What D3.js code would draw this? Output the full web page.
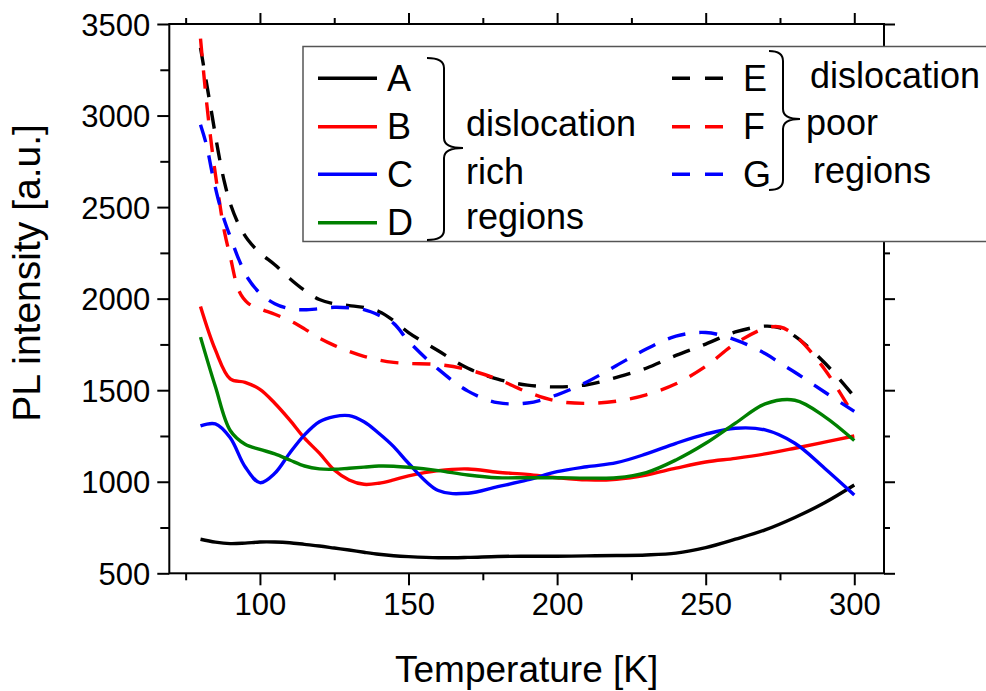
<!DOCTYPE html>
<meta charset="utf-8">
<title>PL intensity vs temperature</title>
<script src="https://cdn.jsdelivr.net/npm/d3@7"></script>
<style>
  html,body{margin:0;background:#fff}
  svg{display:block;font-family:"Liberation Sans",Arial,sans-serif}
  .line{fill:none;stroke-width:3.4}
  .dash{stroke-dasharray:18,14}
</style>
<body>
<svg width="986" height="691"></svg>
<script>
// ---- data ----
const tSolid = [80,85,90,95,100,105,110,115,120,125,130,135,140,145,150,160,170,180,190,200,210,220,230,240,250,260,270,280,290,300];
const serA = [686,670,662,665,671,671,667,658,649,638,627,615,604,596,591,585,587,592,593,593,595,597,600,610,640,686,737,805,885,982];
const serB = [1957,1720,1562,1543,1505,1429,1338,1238,1156,1064,1010,986,992,1010,1032,1061,1070,1052,1040,1022,1010,1014,1037,1074,1108,1128,1152,1183,1216,1250];
const serC = [1305,1316,1240,1082,995,1046,1156,1256,1328,1356,1361,1328,1265,1192,1101,952,937,973,1010,1055,1082,1104,1152,1210,1260,1292,1283,1210,1074,928];
const serD = [1790,1520,1280,1205,1177,1152,1119,1086,1070,1068,1074,1080,1086,1085,1079,1061,1037,1022,1022,1022,1020,1022,1050,1119,1210,1320,1425,1445,1356,1225];

const tDash = [80,82,84,86,88,90,93,96,100,105,110,115,120,125,130,135,140,145,150,160,170,180,190,200,210,220,230,240,250,260,270,275,280,290,300];
const serE = [3370,3180,2990,2800,2640,2520,2400,2320,2250,2185,2110,2045,1995,1972,1962,1952,1930,1880,1815,1715,1620,1560,1528,1518,1530,1570,1620,1690,1752,1818,1850,1840,1795,1650,1465];
const serF = [3420,3080,2800,2570,2370,2230,2040,1975,1945,1915,1880,1835,1785,1745,1712,1685,1665,1652,1646,1640,1612,1560,1490,1440,1428,1440,1475,1535,1630,1755,1838,1845,1800,1615,1356];
const serG = [2950,2840,2680,2540,2430,2339,2210,2110,2030,1972,1945,1939,1945,1953,1950,1940,1910,1865,1768,1615,1495,1432,1430,1475,1545,1635,1725,1795,1815,1775,1700,1648,1598,1490,1384];

const xMajor = [100,150,200,250,300];
const xMinor = [75,125,175,225,275];
const yMajor = [500,1000,1500,2000,2500,3000,3500];
const yMinor = [750,1250,1750,2250,2750,3250];

const series = [
  {name:'A', t:tSolid, v:serA, color:'#000000', dashed:false},
  {name:'B', t:tSolid, v:serB, color:'#ff0000', dashed:false},
  {name:'C', t:tSolid, v:serC, color:'#0000ff', dashed:false},
  {name:'D', t:tSolid, v:serD, color:'#008000', dashed:false},
  {name:'E', t:tDash,  v:serE, color:'#000000', dashed:true},
  {name:'F', t:tDash,  v:serF, color:'#ff0000', dashed:true},
  {name:'G', t:tDash,  v:serG, color:'#0000ff', dashed:true}
];

// ---- layout ----
const L = 169.3, R = 884, T = 24, B = 573.3;
const svg = d3.select('svg');
const x = d3.scaleLinear().domain([69.5, 310]).range([L, R]);
const y = d3.scaleLinear().domain([500, 3500]).range([B, T]);

const line = d3.line()
  .x(d => x(d[0]))
  .y(d => y(d[1]))
  .curve(d3.curveCatmullRom.alpha(0.5));

// curves
const gLines = svg.append('g');
series.forEach(s => {
  gLines.append('path')
    .attr('class', s.dashed ? 'line dash' : 'line')
    .attr('stroke', s.color)
    .attr('d', line(s.t.map((t,i) => [t, s.v[i]])));
});

// frame + ticks
function tickAxis(axis, vals, size, pos, labels) {
  const g = svg.append('g').attr('transform', pos)
    .call(axis.tickValues(vals).tickSize(size).tickSizeOuter(0).tickFormat(labels ? d3.format('d') : ''));
  g.select('.domain').remove();
  g.selectAll('line').attr('stroke', '#000').attr('stroke-width', 2);
  g.selectAll('text').attr('fill', '#000').style('font-size', '31px')
    .style('font-family', '"Liberation Sans",Arial,sans-serif');
  return g;
}
const gxb = tickAxis(d3.axisBottom(x), xMajor, 12, `translate(0,${B})`, true);
gxb.selectAll('text').attr('y', 20);
tickAxis(d3.axisBottom(x), xMinor, 7, `translate(0,${B})`, false);
tickAxis(d3.axisBottom(x), xMajor, -11, `translate(0,${T})`, false);
tickAxis(d3.axisBottom(x), xMinor, -6, `translate(0,${T})`, false);

const gyl = tickAxis(d3.axisLeft(y), yMajor, 12, `translate(${L},0)`, true);
gyl.selectAll('text').attr('x', -19).attr('dy', '0.36em');
tickAxis(d3.axisLeft(y), yMinor, 9, `translate(${L},0)`, false);
tickAxis(d3.axisLeft(y), yMajor, -11, `translate(${R},0)`, false);
tickAxis(d3.axisLeft(y), yMinor, -6, `translate(${R},0)`, false);

svg.append('rect')
  .attr('x', L).attr('y', T).attr('width', R - L).attr('height', B - T)
  .attr('fill', 'none').attr('stroke', '#000').attr('stroke-width', 2);

// axis titles
svg.append('text')
  .attr('x', (L + R) / 2).attr('y', 682)
  .attr('text-anchor', 'middle').style('font-size', '37px')
  .text('Temperature [K]');
svg.append('text')
  .attr('transform', 'translate(40,273) rotate(-90)')
  .attr('text-anchor', 'middle').style('font-size', '39px')
  .text('PL intensity [a.u.]');

// legend
const gLeg = svg.append('g');
gLeg.append('rect')
  .attr('x', 303).attr('y', 46.5).attr('width', 720).attr('height', 195)
  .attr('fill', '#fff').attr('stroke', '#555').attr('stroke-width', 1.5);

const legRowsL = [78.3, 126.7, 174.3, 222.7];
const legRowsR = [78.3, 126.7, 174.3];
series.forEach((s, i) => {
  const left = !s.dashed;
  const yy = left ? legRowsL[i] : legRowsR[i - 4];
  const x0 = left ? 318 : 672, x1 = left ? 377 : 723;
  gLeg.append('line')
    .attr('x1', x0).attr('x2', x1).attr('y1', yy).attr('y2', yy)
    .attr('stroke', s.color).attr('stroke-width', 3.4)
    .attr('stroke-dasharray', s.dashed ? '18,15' : null);
  gLeg.append('text')
    .attr('x', left ? 387 : 743).attr('y', yy + 12.5)
    .style('font-size', '36px').text(s.name);
});

function brace(x0, xv, xt, y0, ym, y1) {
  const r = 10;
  return `M${x0},${y0} Q${xv},${y0} ${xv},${y0 + r} L${xv},${ym - r} Q${xv},${ym} ${xt},${ym}`
       + ` Q${xv},${ym} ${xv},${ym + r} L${xv},${y1 - r} Q${xv},${y1} ${x0},${y1}`;
}
gLeg.append('path').attr('d', brace(427, 444, 463, 58, 148, 240))
  .attr('fill', 'none').attr('stroke', '#000').attr('stroke-width', 2);
gLeg.append('path').attr('d', brace(769, 783, 800, 51, 119, 190))
  .attr('fill', 'none').attr('stroke', '#000').attr('stroke-width', 2);

const groupTexts = [
  {x: 466, y: 136, t: 'dislocation'},
  {x: 466, y: 184, t: 'rich'},
  {x: 466, y: 229, t: 'regions'},
  {x: 810, y: 88, t: 'dislocation'},
  {x: 806, y: 135, t: 'poor'},
  {x: 813, y: 183, t: 'regions'}
];
gLeg.selectAll('text.grp').data(groupTexts).join('text')
  .attr('class', 'grp')
  .attr('x', d => d.x).attr('y', d => d.y)
  .style('font-size', '36px').text(d => d.t);
</script>
</body>
